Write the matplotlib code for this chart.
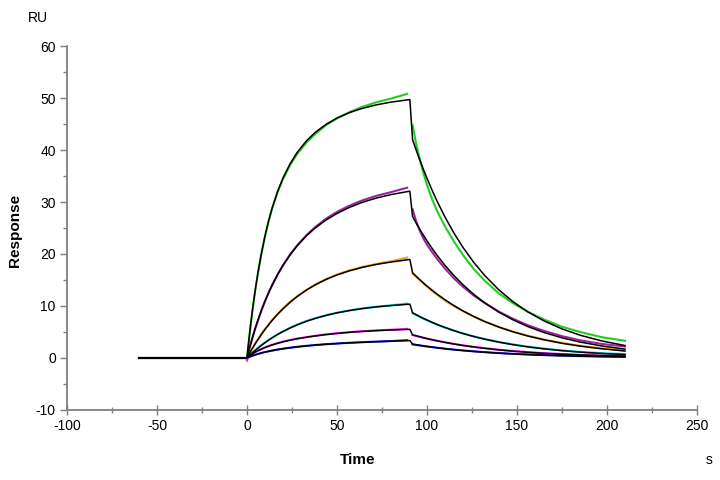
import matplotlib
matplotlib.use("Agg")
import matplotlib.pyplot as plt
from matplotlib.ticker import MultipleLocator

plt.rcParams['font.family'] = ['Liberation Sans', 'DejaVu Sans']
plt.rcParams['axes.unicode_minus'] = False

# ---- time grids (s) ----
t_base = [-60, -40, -20, 0]
t_fit_assoc = [0, 0.5, 1, 2, 3, 4, 5, 6, 8, 10, 12, 14, 17, 20, 24, 28, 33, 38, 44, 50, 57, 64, 72, 80, 90.5]
t_dat_assoc = [0, 0.5, 1, 2, 3, 4, 5, 6, 8, 10, 12, 14, 17, 20, 24, 28, 33, 38, 44, 50, 57, 64, 72, 80, 89]
t_dissoc = [92, 94, 96, 98, 100, 103, 106, 110, 115, 120, 126, 132, 140, 148, 156, 165, 175, 185, 197, 210]

# ---- fitted curves (black), response in RU ----
fit1_assoc = [0, 1.67, 3.27, 6.28, 9.05, 11.61, 13.98, 16.17, 20.07, 23.42, 26.32, 28.83, 32.00, 34.61,
              37.39, 39.60, 41.75, 43.42, 44.96, 46.15, 47.21, 48.01, 48.70, 49.22, 49.71]
fit1_dissoc = [42.0, 40.0, 38.1, 36.3, 34.58, 32.15, 29.89, 27.12, 24.02, 21.27, 18.38, 15.89, 13.08,
               10.77, 8.87, 7.13, 5.59, 4.38, 3.28, 2.39]
fit2_assoc = [0, 0.68, 1.35, 2.63, 3.85, 5.01, 6.11, 7.17, 9.13, 10.92, 12.55, 14.04, 16.05, 17.83,
              19.87, 21.63, 23.48, 25.03, 26.55, 27.80, 28.98, 29.93, 30.77, 31.43, 32.09]
fit2_dissoc = [27.2, 25.95, 24.76, 23.62, 22.54, 21.0, 19.58, 17.82, 15.84, 14.09, 12.23, 10.62, 8.80,
               7.30, 6.04, 4.89, 3.87, 3.06, 2.31, 1.70]
fit3_assoc = [0, 0.32, 0.63, 1.24, 1.83, 2.40, 2.96, 3.49, 4.52, 5.48, 6.38, 7.22, 8.39, 9.45,
              10.72, 11.84, 13.04, 14.07, 15.11, 15.96, 16.77, 17.42, 18.00, 18.45, 18.95]
fit3_dissoc = [16.4, 15.72, 15.07, 14.44, 13.84, 12.99, 12.19, 11.20, 10.07, 9.06, 7.98, 7.02, 5.93,
               5.00, 4.22, 3.49, 2.82, 2.28, 1.77, 1.34]
fit4_assoc = [0, 0.17, 0.34, 0.66, 0.98, 1.28, 1.58, 1.87, 2.42, 2.93, 3.42, 3.87, 4.51, 5.08,
              5.77, 6.38, 7.05, 7.61, 8.19, 8.67, 9.12, 9.49, 9.82, 10.08, 10.35]
fit4_dissoc = [8.7, 8.33, 7.97, 7.62, 7.30, 6.83, 6.39, 5.86, 5.25, 4.70, 4.12, 3.61, 3.03,
               2.54, 2.13, 1.75, 1.40, 1.12, 0.86, 0.65]
fit5_assoc = [0, 0.15, 0.3, 0.55, 0.8, 1.0, 1.2, 1.38, 1.7, 2.0, 2.27, 2.5, 2.82, 3.1,
              3.42, 3.7, 3.98, 4.23, 4.5, 4.72, 4.93, 5.1, 5.26, 5.38, 5.5]
fit5_dissoc = [4.45, 4.26, 4.08, 3.90, 3.73, 3.49, 3.27, 3.0, 2.68, 2.40, 2.11, 1.85, 1.55,
               1.30, 1.09, 0.89, 0.72, 0.58, 0.44, 0.33]
fit6_assoc = [0, 0.08, 0.16, 0.3, 0.43, 0.55, 0.66, 0.76, 0.95, 1.12, 1.27, 1.41, 1.6, 1.77,
              1.96, 2.13, 2.31, 2.47, 2.63, 2.76, 2.9, 3.01, 3.12, 3.22, 3.35]
fit6_dissoc = [2.65, 2.54, 2.43, 2.32, 2.22, 2.08, 1.95, 1.78, 1.60, 1.43, 1.25, 1.10, 0.92,
               0.77, 0.65, 0.53, 0.43, 0.34, 0.26, 0.20]

# ---- measured curves (coloured) ----
base_vals = [0, 0, 0, 0]
dat1_assoc = [0, 1.5, 3.1, 6.1, 8.9, 11.5, 13.9, 16.1, 20.0, 23.4, 26.3, 28.8, 31.9, 34.4,
              37.1, 39.3, 41.4, 43.1, 44.8, 46.1, 47.3, 48.3, 49.2, 49.9, 50.8]
dat1_dissoc = [44.8, 41.2, 38.2, 35.6, 33.3, 30.4, 28.0, 25.3, 22.4, 19.8, 17.1, 14.9, 12.4,
               10.5, 8.9, 7.4, 6.0, 5.0, 4.0, 3.3]
dat2_assoc = [0, 0.6, 1.3, 2.6, 3.8, 5.0, 6.1, 7.1, 9.1, 10.9, 12.5, 14.0, 16.0, 17.8,
              19.9, 21.7, 23.6, 25.2, 26.8, 28.1, 29.3, 30.3, 31.2, 31.9, 32.75]
dat2_dissoc = [28.6, 26.3, 24.5, 23.0, 21.8, 20.3, 18.9, 17.2, 15.3, 13.7, 12.0, 10.6, 8.9,
               7.5, 6.3, 5.2, 4.2, 3.4, 2.7, 2.2]
dat3_assoc = [-0.6, 0.3, 0.6, 1.2, 1.8, 2.4, 3.0, 3.5, 4.6, 5.5, 6.4, 7.3, 8.45, 9.5,
              10.8, 11.9, 13.1, 14.15, 15.2, 16.05, 16.85, 17.5, 18.1, 18.6, 19.3]
dat3_dissoc = [16.2, 15.6, 14.95, 14.3, 13.7, 12.85, 12.05, 11.05, 9.95, 9.0, 7.95, 7.0, 5.95,
               5.05, 4.3, 3.55, 2.9, 2.35, 1.85, 1.4]
dat4_assoc = [-0.2, 0.2, 0.35, 0.68, 1.0, 1.3, 1.6, 1.9, 2.45, 2.95, 3.45, 3.9, 4.55, 5.12,
              5.8, 6.42, 7.1, 7.65, 8.22, 8.7, 9.15, 9.53, 9.87, 10.12, 10.45]
dat4_dissoc = [8.6, 8.25, 7.9, 7.55, 7.25, 6.8, 6.35, 5.85, 5.25, 4.72, 4.15, 3.65, 3.07,
               2.6, 2.18, 1.8, 1.45, 1.17, 0.92, 0.75]
dat5_assoc = [-0.4, 0.12, 0.28, 0.55, 0.8, 1.0, 1.22, 1.4, 1.72, 2.02, 2.3, 2.53, 2.85, 3.13,
              3.45, 3.73, 4.0, 4.26, 4.53, 4.75, 4.96, 5.14, 5.3, 5.42, 5.6]
dat5_dissoc = [4.4, 4.22, 4.05, 3.88, 3.72, 3.48, 3.27, 3.0, 2.7, 2.43, 2.14, 1.88, 1.58,
               1.33, 1.12, 0.92, 0.75, 0.6, 0.47, 0.38]
dat6_assoc = [0, 0.05, 0.14, 0.28, 0.42, 0.54, 0.65, 0.76, 0.95, 1.13, 1.28, 1.42, 1.62, 1.78,
              1.98, 2.15, 2.33, 2.49, 2.65, 2.78, 2.92, 3.03, 3.15, 3.25, 3.42]
dat6_dissoc = [2.6, 2.5, 2.4, 2.3, 2.2, 2.07, 1.94, 1.78, 1.6, 1.44, 1.27, 1.12, 0.94,
               0.79, 0.67, 0.55, 0.45, 0.36, 0.28, 0.22]

data_colors = ['#22cc22', '#a020a0', '#f0a020', '#10d0d0', '#ff20ff', '#2020ff']

fits = [(fit1_assoc, fit1_dissoc), (fit2_assoc, fit2_dissoc), (fit3_assoc, fit3_dissoc),
        (fit4_assoc, fit4_dissoc), (fit5_assoc, fit5_dissoc), (fit6_assoc, fit6_dissoc)]
datas = [(dat1_assoc, dat1_dissoc), (dat2_assoc, dat2_dissoc), (dat3_assoc, dat3_dissoc),
         (dat4_assoc, dat4_dissoc), (dat5_assoc, dat5_dissoc), (dat6_assoc, dat6_dissoc)]

fig = plt.figure(figsize=(7.2, 4.8), dpi=100)
ax = fig.add_axes([0.093, 0.146, 0.875, 0.758])

# measured curves
for (da, dd), c in zip(datas, data_colors):
    ax.plot(t_base, base_vals, color=c, lw=1.5, zorder=2)
    ax.plot(t_dat_assoc, da, color=c, lw=1.5, zorder=2)
    ax.plot(t_dissoc, dd, color=c, lw=1.5, zorder=2)

# fitted curves
for fa, fd in fits:
    ax.plot(t_base, base_vals, color='black', lw=1.1, zorder=3)
    ax.plot(t_fit_assoc + t_dissoc, fa + fd, color='black', lw=1.1, zorder=3)

ax.set_xlim(-100, 250)
ax.set_ylim(-10, 60)
ax.xaxis.set_major_locator(MultipleLocator(50))
ax.xaxis.set_minor_locator(MultipleLocator(25))
ax.yaxis.set_major_locator(MultipleLocator(10))
ax.yaxis.set_minor_locator(MultipleLocator(5))

for s in ['top', 'right']:
    ax.spines[s].set_visible(False)
for s in ['left', 'bottom']:
    ax.spines[s].set_color('#808080')
    ax.spines[s].set_linewidth(1.3)

ax.tick_params(axis='y', which='major', direction='out', length=5, width=1, color='#808080',
               labelsize=10, pad=3)
ax.tick_params(axis='y', which='minor', direction='out', length=3, width=1, color='#808080')
ax.tick_params(axis='x', which='major', direction='inout', length=7, width=1, color='#808080',
               labelsize=10, pad=3)
ax.tick_params(axis='x', which='minor', direction='inout', length=4, width=1, color='#808080')

fig.text(0.052, 0.963, 'RU', fontsize=10, ha='center', va='center')
fig.text(0.985, 0.042, 's', fontsize=10, ha='center', va='center')
fig.text(0.497, 0.042, 'Time', fontsize=11, fontweight='bold', ha='center', va='center')
fig.text(0.021, 0.52, 'Response', fontsize=11, fontweight='bold', rotation=90,
         ha='center', va='center')

fig.savefig('out.png', dpi=100)
